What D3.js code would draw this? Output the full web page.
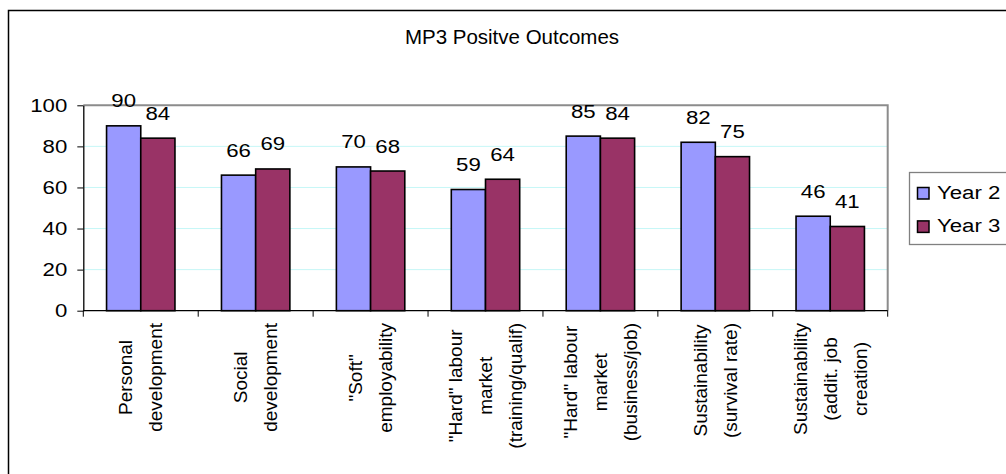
<!DOCTYPE html>
<html>
<head>
<meta charset="utf-8">
<script src="https://cdn.jsdelivr.net/npm/d3@7"></script>
<style>
  html, body { margin: 0; padding: 0; background: #fff; }
  svg { display: block; }
  text { font-family: "Liberation Sans", Arial, sans-serif; fill: #000; }
</style>
</head>
<body>
<svg id="chart" width="1006" height="474"></svg>
<script>
// Category labels (each entry is the list of wrapped lines)
const categories = [
  ["Personal", "development"],
  ["Social", "development"],
  ["\"Soft\"", "employability"],
  ["\"Hard\" labour", "market", "(training/qualif)"],
  ["\"Hard\" labour", "market", "(business/job)"],
  ["Sustainability", "(survival rate)"],
  ["Sustainability", "(addit. job", "creation)"]
];
const seriesNames = ["Year 2", "Year 3"];
const year2 = [90, 66, 70, 59, 85, 82, 46];
const year3 = [84, 69, 68, 64, 84, 75, 41];
const yTicks = [0, 20, 40, 60, 80, 100];
const colors = ["#9999FF", "#993366"];
const title = "MP3 Positve Outcomes";

const svg = d3.select("#chart");
const plot = { left: 83.3, right: 887.7, top: 105.3, bottom: 310.7 };
const wide = 1.17; // horizontal stretch of the numeric and legend text

// Outer chart frame
svg.append("rect")
  .attr("x", 8.5).attr("y", 10.5)
  .attr("width", 1010).attr("height", 480)
  .attr("fill", "#fff").attr("stroke", "#000").attr("stroke-width", 1.5);

const catIdx = d3.range(categories.length);
const x0 = d3.scaleBand().domain(catIdx).range([plot.left, plot.right]).padding(0);
const x1 = d3.scaleBand().domain(seriesNames).range([0, x0.bandwidth()])
  .paddingInner(0).paddingOuter(0.68);
const y = d3.scaleLinear().domain([0, 100]).range([plot.bottom, plot.top]);

// Gridlines
svg.append("g").selectAll("line")
  .data(yTicks.filter(t => t > 0 && t < 100))
  .join("line")
  .attr("x1", plot.left).attr("x2", plot.right)
  .attr("y1", d => y(d)).attr("y2", d => y(d))
  .attr("stroke", "#c6f7f7").attr("stroke-width", 1);

// Plot area border (top and right)
svg.append("path")
  .attr("d", `M${plot.left},${plot.top}H${plot.right}V${plot.bottom}`)
  .attr("fill", "none").attr("stroke", "#8c8c8c").attr("stroke-width", 2);

// Bars
const rows = catIdx.map(i => ({ i, vals: [year2[i], year3[i]] }));
const groups = svg.append("g").selectAll("g")
  .data(rows).join("g")
  .attr("transform", d => `translate(${x0(d.i)},0)`);

groups.selectAll("rect")
  .data(d => d.vals.map((v, k) => ({ k, v })))
  .join("rect")
  .attr("x", d => x1(seriesNames[d.k]))
  .attr("y", d => y(d.v))
  .attr("width", x1.bandwidth())
  .attr("height", d => y(0) - y(d.v))
  .attr("fill", d => colors[d.k])
  .attr("stroke", "#000").attr("stroke-width", 1.6);

// Value labels
groups.selectAll("text.val")
  .data(d => d.vals.map((v, k) => ({ k, v })))
  .join("text")
  .attr("class", "val")
  .attr("text-anchor", "middle")
  .attr("transform", d =>
    `translate(${x1(seriesNames[d.k]) + x1.bandwidth() / 2},${y(d.v) - 18.5}) scale(${wide},1)`)
  .style("font-size", "19px")
  .text(d => d.v);

// Y axis
const yAxis = svg.append("g")
  .attr("transform", `translate(${plot.left},0)`)
  .call(d3.axisLeft(y).tickValues(yTicks).tickSize(6).tickPadding(10).tickSizeOuter(0));
yAxis.selectAll("text")
  .attr("x", 0)
  .attr("transform", `translate(-16,0) scale(${wide},1)`)
  .style("font-size", "19px")
  .style("font-family", "'Liberation Sans', Arial, sans-serif");
yAxis.select(".domain").attr("stroke", "#000").attr("stroke-width", 1.3);
yAxis.selectAll(".tick line").attr("stroke", "#000");

// X axis line and category boundary ticks
svg.append("line")
  .attr("x1", plot.left).attr("x2", plot.right)
  .attr("y1", plot.bottom).attr("y2", plot.bottom)
  .attr("stroke", "#000").attr("stroke-width", 1.3);
const bounds = catIdx.map(i => x0(i)).concat([plot.right]);
svg.append("g").selectAll("line")
  .data(bounds).join("line")
  .attr("x1", d => d).attr("x2", d => d)
  .attr("y1", plot.bottom).attr("y2", plot.bottom + 6)
  .attr("stroke", "#000").attr("stroke-width", 1);

// Rotated, wrapped category labels
const linePitch = 30;
const labelTop = 323;
categories.forEach((lines, i) => {
  const cx = x0(i) + x0.bandwidth() / 2;
  const g = svg.append("g");
  const texts = lines.map((ln, j) => g.append("text")
    .attr("text-anchor", "middle")
    .attr("dy", "0.35em")
    .style("font-size", "19px")
    .text(ln));
  const maxLen = d3.max(texts, t => t.node().getComputedTextLength());
  const cy = labelTop + maxLen / 2;
  texts.forEach((t, j) => {
    const lx = cx + (j - (lines.length - 1) / 2) * linePitch;
    t.attr("transform", `translate(${lx},${cy}) rotate(-90)`);
  });
});

// Title
svg.append("text")
  .attr("x", 512).attr("y", 44)
  .attr("text-anchor", "middle")
  .style("font-size", "20.5px")
  .text(title);

// Legend
const legend = svg.append("g");
legend.append("rect")
  .attr("x", 909.5).attr("y", 172.5)
  .attr("width", 120).attr("height", 72)
  .attr("fill", "#fff").attr("stroke", "#808080").attr("stroke-width", 1.3);
seriesNames.forEach((name, k) => {
  const yy = 187.5 + k * 33.4;
  legend.append("rect")
    .attr("x", 917.5).attr("y", yy)
    .attr("width", 11.5).attr("height", 11.5)
    .attr("fill", colors[k]).attr("stroke", "#000").attr("stroke-width", 1.5);
  legend.append("text")
    .attr("transform", `translate(937,${yy + 11.5}) scale(${wide},1)`)
    .style("font-size", "19px")
    .text(name);
});
</script>
</body>
</html>
